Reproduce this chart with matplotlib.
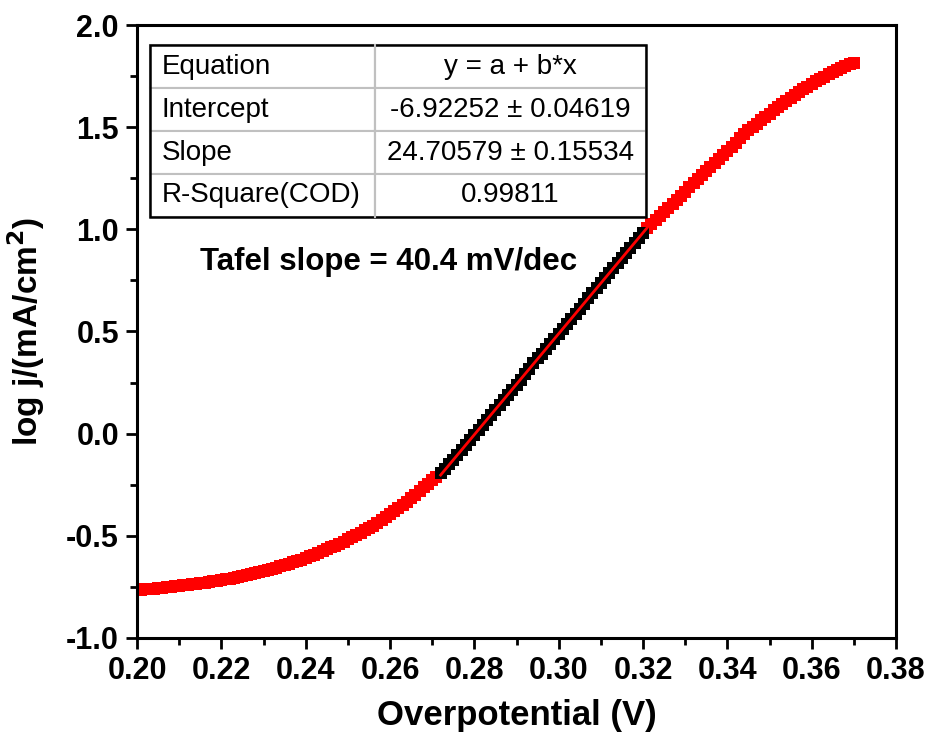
import numpy as np
import matplotlib
matplotlib.use('Agg')
import matplotlib.pyplot as plt
from matplotlib.patches import Rectangle

plt.rcParams['font.family'] = ['Liberation Sans', 'DejaVu Sans']

# data (overpotential in V, log j)
x_low = np.round(np.arange(0.200, 0.2715, 0.001), 3)
y_low = [-0.765, -0.764, -0.762, -0.760, -0.758, -0.756, -0.754, -0.752, -0.750, -0.748,
         -0.745, -0.743, -0.740, -0.738, -0.735, -0.732, -0.729, -0.726, -0.723, -0.720,
         -0.716, -0.713, -0.709, -0.705, -0.701, -0.697, -0.692, -0.688, -0.683, -0.678,
         -0.673, -0.668, -0.662, -0.656, -0.650, -0.644, -0.637, -0.630, -0.623, -0.616,
         -0.608, -0.600, -0.592, -0.584, -0.575, -0.566, -0.557, -0.548, -0.538, -0.528,
         -0.518, -0.508, -0.497, -0.486, -0.474, -0.462, -0.450, -0.437, -0.423, -0.409,
         -0.395, -0.380, -0.365, -0.349, -0.333, -0.316, -0.298, -0.280, -0.262, -0.244,
         -0.225, -0.210]

x_lin = np.round(np.arange(0.272, 0.3205, 0.001), 3)
y_lin = [-0.195, -0.175, -0.150, -0.128, -0.104, -0.080, -0.055, -0.030, -0.008, 0.018,
         0.042, 0.068, 0.092, 0.118, 0.140, 0.165, 0.190, 0.212, 0.238, 0.262,
         0.290, 0.318, 0.345, 0.368, 0.392, 0.415, 0.440, 0.462, 0.488, 0.512,
         0.538, 0.562, 0.588, 0.612, 0.637, 0.662, 0.688, 0.712, 0.737, 0.760,
         0.785, 0.810, 0.835, 0.860, 0.884, 0.908, 0.932, 0.956, 0.980]

x_high = np.round(np.arange(0.321, 0.3705, 0.001), 3)
y_high = [1.005, 1.025, 1.045, 1.065, 1.085, 1.105, 1.125, 1.145, 1.165, 1.185,
          1.205, 1.225, 1.245, 1.265, 1.285, 1.305, 1.325, 1.345, 1.365, 1.385,
          1.405, 1.425, 1.445, 1.465, 1.485, 1.502, 1.518, 1.534, 1.550, 1.566,
          1.582, 1.597, 1.612, 1.627, 1.642, 1.657, 1.671, 1.685, 1.698, 1.711,
          1.724, 1.736, 1.748, 1.760, 1.771, 1.782, 1.792, 1.801, 1.808, 1.812]

# linear fit from the table
intercept = -6.92252
slope = 24.70579
x_fit = np.array([0.272, 0.321])

table_rows = [['Equation', 'y = a + b*x'],
              ['Intercept', '-6.92252 \u00b1 0.04619'],
              ['Slope', '24.70579 \u00b1 0.15534'],
              ['R-Square(COD)', '0.99811']]

fig = plt.figure(figsize=(9.31, 7.36), dpi=100)
ax = fig.add_axes([0.1472, 0.1332, 0.8152, 0.8328])

ms = 9
ax.plot(x_low, y_low, 's', color='red', ms=ms, mew=0)
ax.plot(x_high, y_high, 's', color='red', ms=ms, mew=0)
ax.plot(x_lin, y_lin, 's', color='black', ms=ms, mew=0)
ax.plot(x_fit, intercept + slope * x_fit, '-', color='red', lw=2)

# axes
ax.set_xlim(0.20, 0.38)
ax.set_ylim(-1.0, 2.0)
ax.set_xticks(np.arange(0.20, 0.381, 0.02))
ax.set_xticks(np.arange(0.21, 0.38, 0.02), minor=True)
ax.set_yticks(np.arange(-1.0, 2.01, 0.5))
ax.set_yticks(np.arange(-0.75, 2.0, 0.5), minor=True)
ax.set_xticklabels([f'{v:.2f}' for v in np.arange(0.20, 0.381, 0.02)])
ax.set_yticklabels([f'{v:.1f}' for v in np.arange(-1.0, 2.01, 0.5)])
for s in ax.spines.values():
    s.set_linewidth(2.2)
ax.tick_params(which='major', direction='out', length=8, width=2, labelsize=22, pad=5)
ax.tick_params(which='minor', direction='out', length=5, width=2)
for lbl in ax.get_xticklabels() + ax.get_yticklabels():
    lbl.set_fontweight('bold')

ax.set_xlabel('Overpotential (V)', fontsize=25, fontweight='bold')
ax.set_ylabel('log j/(mA/cm$^{\\mathbf{2}}$)', fontsize=24, fontweight='bold')
ax.xaxis.set_label_coords(0.5, -0.1)
ax.yaxis.set_label_coords(-0.118, 0.5)

ax.text(0.2149, 0.84, 'Tafel slope = 40.4 mV/dec', fontsize=22.5, fontweight='bold',
        ha='left', va='center')

# fit table
tbl = ax.table(cellText=table_rows, colWidths=[0.4536, 0.5464],
               bbox=[0.0171, 0.687, 0.6535, 0.280], zorder=3)
tbl.auto_set_font_size(False)
tbl.set_fontsize(20)
for (r, c), cell in tbl.get_celld().items():
    cell.set_edgecolor('#c0c0c0')
    cell.set_linewidth(1.5)
    cell.set_facecolor('white')
    if c == 0:
        cell.PAD = 0.05
        cell.get_text().set_horizontalalignment('left')
    else:
        cell.get_text().set_horizontalalignment('center')
ax.add_patch(Rectangle((0.0171, 0.687), 0.6535, 0.280, transform=ax.transAxes,
                       fill=False, edgecolor='black', lw=1.8, zorder=4))
ax.plot([0.0171 + 0.6535 * 0.4536] * 2, [0.687, 0.967], transform=ax.transAxes,
        color='#c0c0c0', lw=1.5, zorder=4)

fig.savefig('out.png', dpi=100)
